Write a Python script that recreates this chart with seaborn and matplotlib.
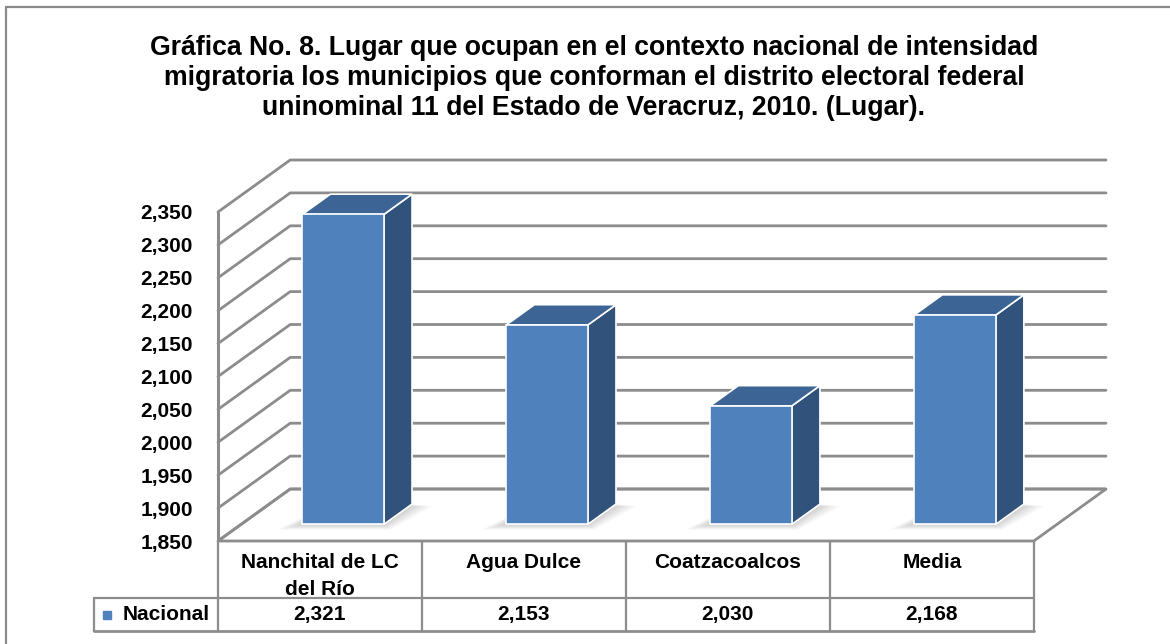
import matplotlib
matplotlib.use("Agg")
import matplotlib.pyplot as plt
from matplotlib.patches import Polygon, Rectangle
from matplotlib.lines import Line2D
import seaborn as sns

# ---- data -------------------------------------------------------------
categories = ["Nanchital de LC\ndel Río", "Agua Dulce", "Coatzacoalcos", "Media"]
nacional = [2321, 2153, 2030, 2168]
series_name = "Nacional"
y_ticks = [1850, 1900, 1950, 2000, 2050, 2100, 2150, 2200, 2250, 2300, 2350]
title = ("Gráfica No. 8. Lugar que ocupan en el contexto nacional de intensidad\n"
         "migratoria los municipios que conforman el distrito electoral federal\n"
         "uninominal 11 del Estado de Veracruz, 2010. (Lugar).")

# ---- style ------------------------------------------------------------
sns.set_theme(style="white")
plt.rcParams["font.family"] = ["Liberation Sans", "DejaVu Sans"]
plt.rcParams["text.color"] = "black"
plt.rcParams["ytick.color"] = "black"

FACE = "#4f81bd"
TOP = "#3c6494"
SIDE = "#30527b"
GRID = "#8c8c8c"
FS = 15

W, H = 1170, 644
fig = plt.figure(figsize=(W / 100, H / 100), dpi=100)
fig.patch.set_facecolor("white")

# depth vector of the pseudo-3D box, expressed in data units
depth_x = 0.354
depth_y = 79
f0, f1 = 0.32, 0.71      # front / back depth of the bars
bar_w = 0.40

n = len(categories)
y_min, y_max = y_ticks[0], y_ticks[-1]

ax = fig.add_axes([218 / W, 1 - 541 / H, 888 / W, 381 / H])
ax.set_xlim(0, n + depth_x)
ax.set_ylim(y_min, y_max + depth_y)
ax.set_facecolor("none")
for s in ax.spines.values():
    s.set_visible(False)

# floor
ax.add_patch(Polygon([(0, y_min), (n, y_min), (n + depth_x, y_min + depth_y),
                      (depth_x, y_min + depth_y)], closed=True,
                     fc="white", ec=GRID, lw=2, zorder=1, clip_on=False))
# left wall edge and gridlines running along side and back walls
ax.plot([0, 0], [y_min, y_max], color=GRID, lw=2.2, zorder=1.5,
        solid_capstyle="butt", clip_on=False)
for v in y_ticks:
    ax.plot([0, depth_x, n + depth_x], [v, v + depth_y, v + depth_y],
            color=GRID, lw=2.0, zorder=1.5, clip_on=False,
            solid_joinstyle="round")

# bars
ddx = (f1 - f0) * depth_x
ddy = (f1 - f0) * depth_y
for i, v in enumerate(nacional):
    xl = i + 0.5 + f0 * depth_x - bar_w / 2
    xr = xl + bar_w
    yb = y_min + f0 * depth_y
    yt = v + f0 * depth_y
    # soft floor shadow around the base
    for k in range(5):
        s = 1 - k * 0.2
        ax.add_patch(Polygon([(xl - 0.12 * s, yb - 8 * s),
                              (xr + 0.03 * s, yb - 8 * s),
                              (xr + ddx + 0.10 * s, yb + ddy - 3 * s),
                              (xl + ddx - 0.02 * s, yb + ddy - 3 * s)],
                             closed=True, fc="#000000", alpha=0.035, lw=0,
                             zorder=2))
    ax.add_patch(Polygon([(xr, yb), (xr, yt), (xr + ddx, yt + ddy),
                          (xr + ddx, yb + ddy)], closed=True,
                         fc=SIDE, ec="white", lw=1.2, zorder=3))
    ax.add_patch(Polygon([(xl, yt), (xr, yt), (xr + ddx, yt + ddy),
                          (xl + ddx, yt + ddy)], closed=True,
                         fc=TOP, ec="white", lw=1.2, zorder=3))
    ax.add_patch(Rectangle((xl, yb), bar_w, v - y_min,
                           fc=FACE, ec="white", lw=1.2, zorder=4))

ax.set_xticks([])
ax.set_yticks(y_ticks)
ax.set_yticklabels([f"{v:,}" for v in y_ticks], fontsize=FS, fontweight="bold",
                   color="black")
ax.tick_params(axis="y", length=0, pad=18)
ax.grid(False)

# ---- data table -------------------------------------------------------
tab = fig.add_axes([218 / W, 1 - 631 / H, 888 / W, 90 / H])
tab.set_xlim(0, n + depth_x)
tab.set_ylim(90, 0)
tab.axis("off")
leg_x = -0.608
row_split = 57
for i in range(n + 1):
    tab.plot([i, i], [0, 90], color=GRID, lw=1.6, clip_on=False)
tab.plot([leg_x, n], [row_split, row_split], color=GRID, lw=1.6, clip_on=False)
tab.plot([leg_x, n], [90, 90], color=GRID, lw=2.0, clip_on=False)
tab.plot([leg_x, leg_x], [row_split, 90], color=GRID, lw=1.6, clip_on=False)

for i, (cat, v) in enumerate(zip(categories, nacional)):
    tab.text(i + 0.5, 12, cat, ha="center", va="top", fontsize=FS,
             fontweight="bold", linespacing=1.55, color="black")
    tab.text(i + 0.5, 73.5, f"{v:,}", ha="center", va="center",
             fontsize=FS, fontweight="bold", color="black")
tab.plot([-0.544], [73.5], marker="s", ms=6, color=FACE, clip_on=False)
tab.text(-0.466, 73.5, series_name, ha="left", va="center", fontsize=FS,
         fontweight="bold", color="black")

# ---- title and frame --------------------------------------------------
fig.text(594 / W, 1 - 78 / H, title, ha="center", va="center",
         fontsize=19.2, fontweight="bold", linespacing=1.2, color="black")
fig.add_artist(Line2D([6 / W, 6 / W], [0, 1 - 7 / H], transform=fig.transFigure,
                      color="#8a8a8a", lw=1.6))
fig.add_artist(Line2D([6 / W, 1], [1 - 7 / H, 1 - 7 / H],
                      transform=fig.transFigure, color="#8a8a8a", lw=1.6))

fig.savefig("out.png", dpi=100, facecolor="white")
